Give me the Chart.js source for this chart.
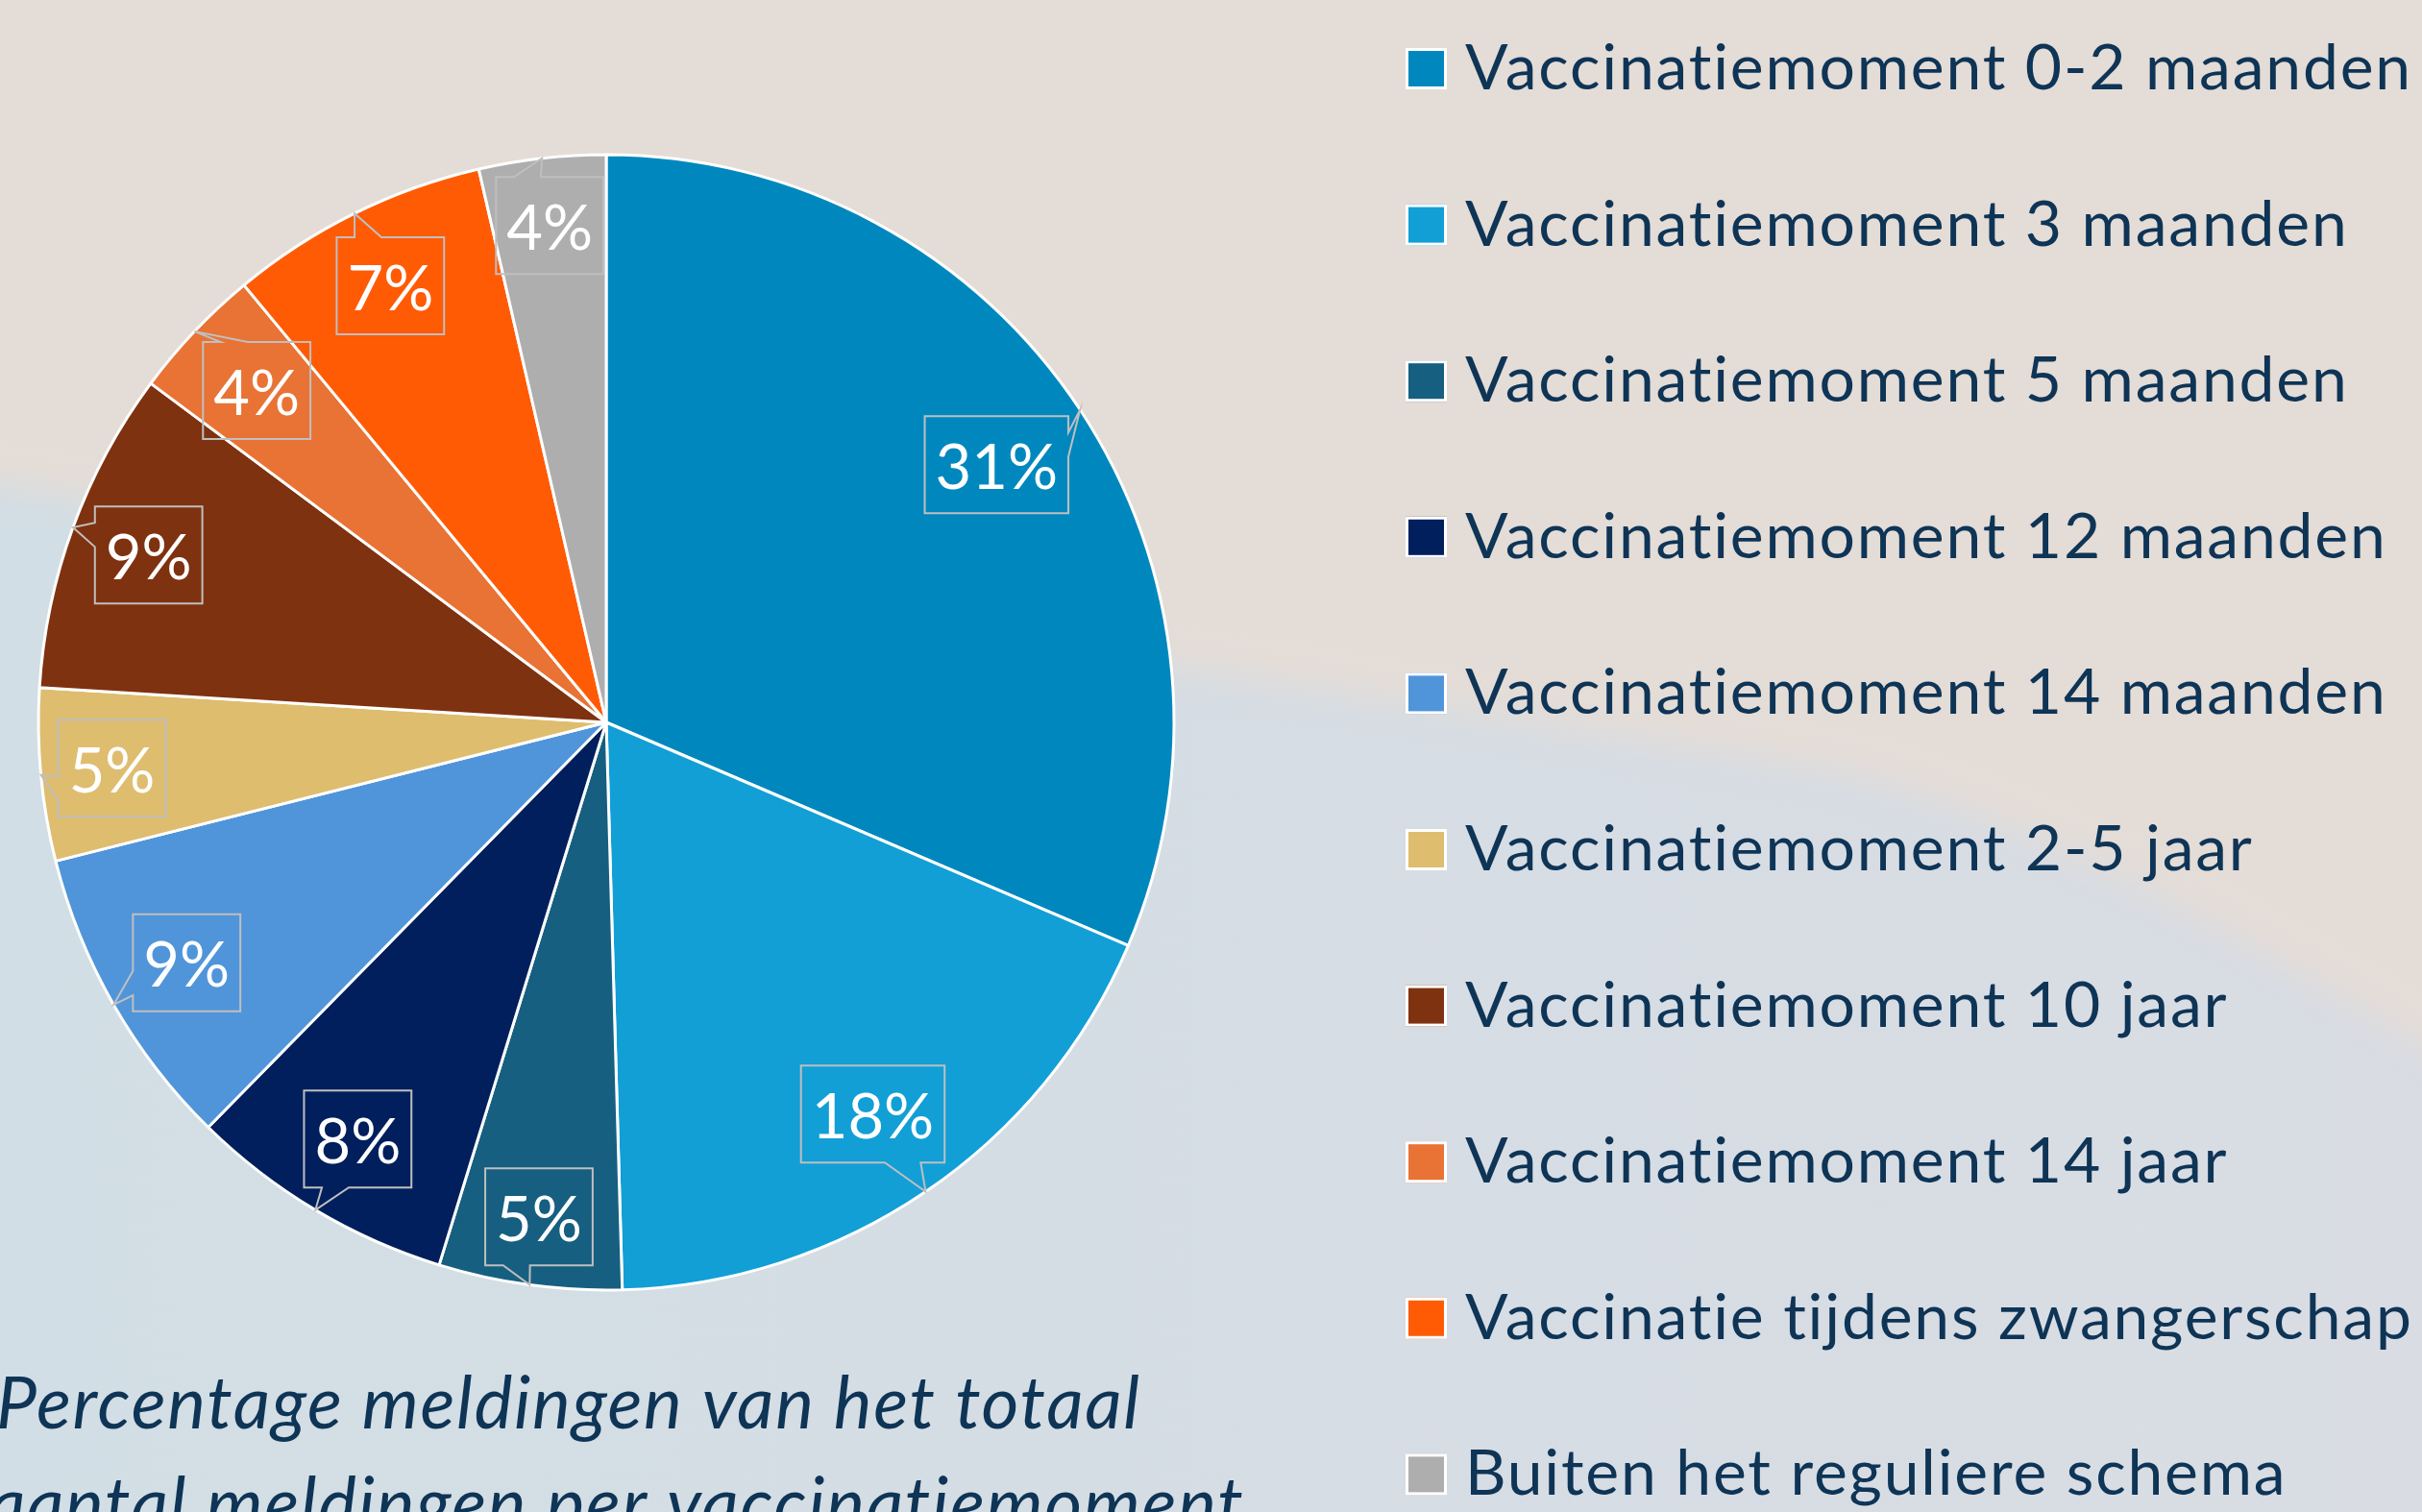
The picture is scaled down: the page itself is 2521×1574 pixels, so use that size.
<!DOCTYPE html>
<html lang="nl">
<head>
<meta charset="utf-8">
<title>Meldingen per vaccinatiemoment</title>
<script src="https://cdn.jsdelivr.net/npm/chart.js@4.4.1/dist/chart.umd.min.js"></script>
<style>
  html, body { margin: 0; padding: 0; overflow: hidden; background: #d6dde2; }
  #wrap { position: relative; width: 2521px; height: 1574px; }
</style>
</head>
<body>
<div id="wrap"><canvas id="pieChart"></canvas></div>
<script>
// vaccinatiemomenten (volgorde = kloksgewijs vanaf 12 uur)
const momenten = [
  'Vaccinatiemoment 0-2 maanden',
  'Vaccinatiemoment 3 maanden',
  'Vaccinatiemoment 5 maanden',
  'Vaccinatiemoment 12 maanden',
  'Vaccinatiemoment 14 maanden',
  'Vaccinatiemoment 2-5 jaar',
  'Vaccinatiemoment 10 jaar',
  'Vaccinatiemoment 14 jaar',
  'Vaccinatie tijdens zwangerschap',
  'Buiten het reguliere schema'
];

// aandeel meldingen in procenten
const percentages = [31.4, 18.1, 5.2, 7.6, 8.7, 4.9, 9.2, 3.8, 7.4, 3.6];

const kleuren = [
  '#0088BE', '#119FD6', '#165F81', '#001F5C', '#5095D9',
  '#DEBD6F', '#7F3210', '#E87335', '#FF5B05', '#AEAEAE'
];

const bijschrift = [
  'Percentage meldingen van het totaal',
  'aantal meldingen per vaccinatiemoment'
];

const tekstKleur = '#0E3456';

// achtergrond: beige boven, grijsblauw onder, zachte overgang
const achtergrond = {
  id: 'achtergrond',
  beforeDraw(chart) {
    const {ctx, width, height} = chart;
    ctx.save();
    const g = ctx.createLinearGradient(0, 0, width, 0);
    g.addColorStop(0, '#D2DEE5');
    g.addColorStop(1, '#D9DCE3');
    ctx.fillStyle = g;
    ctx.fillRect(0, 0, width, height);
    ctx.filter = 'blur(18px)';
    ctx.fillStyle = '#E4DCD6';
    ctx.beginPath();
    ctx.moveTo(-100, -100);
    ctx.lineTo(width + 100, -100);
    ctx.lineTo(width + 100, 1150);
    ctx.quadraticCurveTo(2150, 850, 1900, 800);
    ctx.lineTo(-100, 490);
    ctx.closePath();
    ctx.fill();
    ctx.restore();
  }
};

// kader met aanwijspunt (zoals Office "wedgeRectCallout")
function kaderMetPunt(ctx, l, t, w, h, px, py) {
  const cx = l + w / 2, cy = t + h / 2;
  const dx = px - cx, dy = py - cy;
  const r = l + w, b = t + h;
  ctx.beginPath();
  if (Math.abs(dy) > Math.abs(dx) * h / w) {
    const x1 = l + w * (dx > 0 ? 7 : 2) / 12;
    const x2 = l + w * (dx > 0 ? 10 : 5) / 12;
    if (dy < 0) {
      ctx.moveTo(l, t); ctx.lineTo(x1, t); ctx.lineTo(px, py); ctx.lineTo(x2, t);
      ctx.lineTo(r, t); ctx.lineTo(r, b); ctx.lineTo(l, b);
    } else {
      ctx.moveTo(l, t); ctx.lineTo(r, t); ctx.lineTo(r, b); ctx.lineTo(x2, b);
      ctx.lineTo(px, py); ctx.lineTo(x1, b); ctx.lineTo(l, b);
    }
  } else {
    const y1 = t + h * (dy > 0 ? 7 : 2) / 12;
    const y2 = t + h * (dy > 0 ? 10 : 5) / 12;
    if (dx > 0) {
      ctx.moveTo(l, t); ctx.lineTo(r, t); ctx.lineTo(r, y1); ctx.lineTo(px, py);
      ctx.lineTo(r, y2); ctx.lineTo(r, b); ctx.lineTo(l, b);
    } else {
      ctx.moveTo(l, t); ctx.lineTo(r, t); ctx.lineTo(r, b); ctx.lineTo(l, b);
      ctx.lineTo(l, y2); ctx.lineTo(px, py); ctx.lineTo(l, y1);
    }
  }
  ctx.closePath();
  ctx.stroke();
}

// percentage-labels in kaders binnen de taartpunten
const labelKaders = {
  id: 'labelKaders',
  afterDatasetsDraw(chart) {
    const ctx = chart.ctx;
    const meta = chart.getDatasetMeta(0);
    ctx.save();
    ctx.font = '65px Lato';
    ctx.strokeStyle = '#BFBFBF';
    ctx.lineWidth = 2;
    ctx.lineJoin = 'miter';
    meta.data.forEach((arc, i) => {
      const {x, y, startAngle, endAngle, outerRadius} =
        arc.getProps(['x', 'y', 'startAngle', 'endAngle', 'outerRadius'], true);
      const mid = (startAngle + endAngle) / 2;
      const ux = Math.cos(mid), uy = Math.sin(mid);
      const tekst = Math.round(percentages[i]) + '%';
      const w = ctx.measureText(tekst).width + 22;
      const h = 101;
      const d = outerRadius - 14 - (w / 2 * Math.abs(ux) + h / 2 * Math.abs(uy));
      const cx = x + ux * d, cy = y + uy * d;
      kaderMetPunt(ctx, cx - w / 2, cy - h / 2, w, h, x + ux * outerRadius, y + uy * outerRadius);
      ctx.fillStyle = '#FFFFFF';
      ctx.textAlign = 'center';
      ctx.textBaseline = 'alphabetic';
      ctx.fillText(tekst, cx, cy + 25);
    });
    ctx.restore();
  }
};

// legenda rechts
const legenda = {
  id: 'legenda',
  afterDraw(chart) {
    const ctx = chart.ctx;
    ctx.save();
    ctx.font = '66px Lato';
    ctx.letterSpacing = '1.8px';
    ctx.textAlign = 'left';
    ctx.textBaseline = 'alphabetic';
    momenten.forEach((m, i) => {
      const y = 50 + i * 162.6;
      ctx.fillStyle = kleuren[i];
      ctx.fillRect(1463, y, 43, 43);
      ctx.strokeStyle = '#FFFFFF';
      ctx.lineWidth = 3;
      ctx.strokeRect(1464.5, y + 1.5, 40, 40);
      ctx.fillStyle = tekstKleur;
      ctx.fillText(m, 1525, y + 43);
    });
    ctx.restore();
  }
};

// bijschrift onder de taart
const onderschrift = {
  id: 'onderschrift',
  afterDraw(chart) {
    const ctx = chart.ctx;
    ctx.save();
    ctx.font = 'italic 75px Lato';
    ctx.letterSpacing = '1.7px';
    ctx.fillStyle = tekstKleur;
    ctx.textAlign = 'left';
    ctx.textBaseline = 'alphabetic';
    ctx.fillText(bijschrift[0], -4, 1487);
    ctx.fillText(bijschrift[1], -12, 1592);
    ctx.restore();
  }
};

function tekenGrafiek() {
  new Chart(document.getElementById('pieChart'), {
    type: 'pie',
    data: {
      labels: momenten,
      datasets: [{
        data: percentages,
        backgroundColor: kleuren,
        borderColor: '#FFFFFF',
        borderWidth: 3,
        radius: 591
      }]
    },
    options: {
      responsive: true,
      maintainAspectRatio: false,
      animation: false,
      layout: { padding: { left: 0, top: 0, right: 2521 - 1262, bottom: 1574 - 1504 } },
      plugins: { legend: { display: false }, tooltip: { enabled: false } }
    },
    plugins: [achtergrond, labelKaders, legenda, onderschrift]
  });
}

Promise.all([
  document.fonts.load('66px Lato'),
  document.fonts.load('italic 75px Lato')
]).then(tekenGrafiek, tekenGrafiek);
</script>
</body>
</html>
